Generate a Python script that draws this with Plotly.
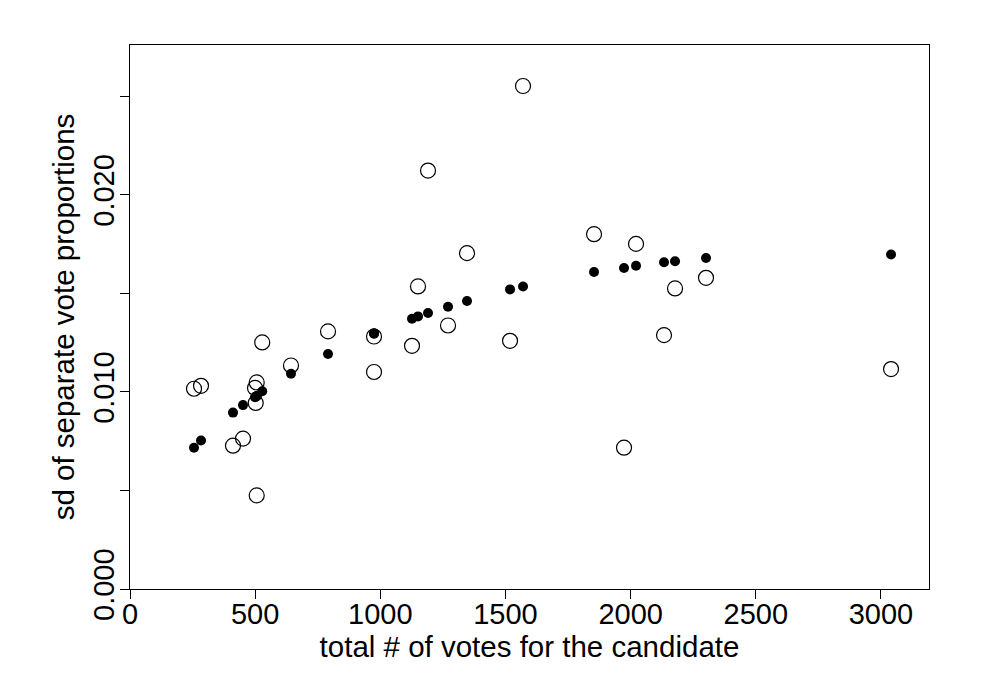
import plotly.graph_objects as go

# total votes for each candidate
votes = [255.7, 283.7, 411.5, 451.5, 499.4, 502.2, 506.2, 506.2, 528.3,
         643.2, 791.1, 974.8, 974.8, 1126.6, 1150.6, 1190.6, 1270.5, 1346.4,
         1518.2, 1570.1, 1853.8, 1973.6, 2021.6, 2133.4, 2177.4, 2301.2, 3040.4]

# sd of separate vote proportions (observed, open circles)
sd_observed = [0.01016, 0.01031, 0.00727, 0.00763, 0.01020, 0.00944, 0.01048, 0.00475, 0.01251,
               0.01134, 0.01307, 0.01281, 0.01101, 0.01234, 0.01535, 0.02123, 0.01337, 0.01704,
               0.01259, 0.02552, 0.01800, 0.00717, 0.01751, 0.01288, 0.01525, 0.01579, 0.01116]

# expected sd (filled dots)
sd_expected = [0.00717, 0.00753, 0.00895, 0.00933, 0.00973, 0.00976, 0.00979, 0.00979, 0.01003,
               0.01092, 0.01192, 0.01295, 0.01297, 0.01371, 0.01383, 0.01400, 0.01432, 0.01461,
               0.01520, 0.01535, 0.01608, 0.01629, 0.01640, 0.01658, 0.01663, 0.01679, 0.01697]

x_ticks = [0, 500, 1000, 1500, 2000, 2500, 3000]
y_ticks = [0.000, 0.005, 0.010, 0.015, 0.020, 0.025]
y_ticktext = ["0.000", "", "0.010", "", "0.020", ""]

FONT = "Liberation Sans, Arial, Helvetica, sans-serif"

fig = go.Figure()
fig.add_trace(go.Scatter(
    x=votes, y=sd_observed, mode="markers",
    marker=dict(symbol="circle-open", size=15, color="black", line=dict(width=1.2)),
    showlegend=False, hoverinfo="x+y"))
fig.add_trace(go.Scatter(
    x=votes, y=sd_expected, mode="markers",
    marker=dict(symbol="circle", size=10, color="black"),
    showlegend=False, hoverinfo="x+y"))

fig.update_layout(
    width=984, height=690,
    margin=dict(l=122, r=63, t=37, b=109),
    paper_bgcolor="white", plot_bgcolor="white",
    font=dict(family=FONT, color="black", size=29),
    xaxis=dict(
        range=[0, 3192], tickvals=x_ticks, ticks="outside", ticklen=9, tickwidth=1,
        tickcolor="black", showline=True, linecolor="black", linewidth=1.2, mirror=True,
        showgrid=False, zeroline=False, tickfont=dict(size=29), ticklabelstandoff=-10,
        title=dict(text="total # of votes for the candidate", font=dict(size=29.5), standoff=2),
    ),
    yaxis=dict(
        range=[0, 0.0276], tickvals=y_ticks, ticktext=y_ticktext, ticks="outside", ticklen=9,
        tickwidth=1, tickcolor="black", showline=True, linecolor="black", linewidth=1.2,
        mirror=True, showgrid=False, zeroline=False, tickangle=-90, tickfont=dict(size=29),
        ticklabelstandoff=-6,
        title=dict(text="sd of separate vote proportions", font=dict(size=29.5), standoff=4),
    ),
)

fig.write_html("out.html")
